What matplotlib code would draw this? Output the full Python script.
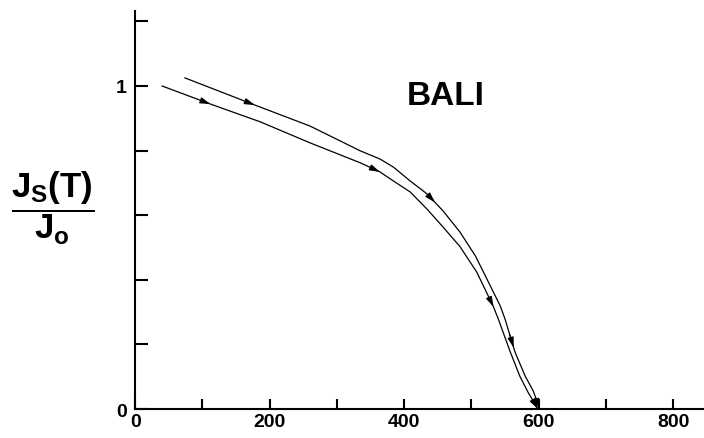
import numpy as np
import matplotlib
matplotlib.use('Agg')
import matplotlib.pyplot as plt

# 曲线数据
T_lower = [40, 112, 186, 260, 335, 364, 384, 409, 434, 458, 483, 508, 533, 540, 558, 572, 584, 599]
J_lower = [1.0, 0.944, 0.889, 0.824, 0.762, 0.734, 0.706, 0.672, 0.619, 0.563, 0.503, 0.424,
           0.316, 0.279, 0.176, 0.102, 0.053, 0.0]

T_upper = [74, 178, 260, 335, 364, 384, 409, 434, 458, 483, 506, 518, 543, 550, 565, 580, 592, 602]
J_upper = [1.025, 0.941, 0.876, 0.799, 0.774, 0.749, 0.706, 0.666, 0.613, 0.548, 0.474, 0.424,
           0.319, 0.279, 0.176, 0.102, 0.056, 0.0]

# 箭头位置
arrow_lower = [112, 364, 533, 599]
arrow_upper = [178, 446, 563, 602]

xticks = list(range(0, 801, 100))
xtick_labels = ['0', '', '200', '', '400', '', '600', '', '800']
yticks = [0, 0.2, 0.4, 0.6, 0.8, 1.0, 1.2]
ytick_labels = ['0', '', '', '', '', '1', '']

plt.rcParams['font.family'] = ['Liberation Sans', 'DejaVu Sans']
plt.rcParams['font.weight'] = 'bold'
plt.rcParams['mathtext.fontset'] = 'custom'
plt.rcParams['mathtext.bf'] = 'Liberation Sans:bold'
plt.rcParams['mathtext.rm'] = 'Liberation Sans:bold'
plt.rcParams['mathtext.it'] = 'Liberation Sans:bold'
plt.rcParams['mathtext.default'] = 'bf'

fig = plt.figure(figsize=(7.04, 4.39), dpi=100)
ax = fig.add_axes([0.192, 0.066, 0.808, 0.9066])

ax.plot(T_lower, J_lower, color='black', linewidth=0.9)
ax.plot(T_upper, J_upper, color='black', linewidth=0.9)


def draw_arrows(Ts, Js, pos, open_first=False):
    for i, t in enumerate(pos):
        j = np.interp(t, Ts, Js)
        t0 = t - 6
        j0 = np.interp(t0, Ts, Js)
        fc = 'white' if (open_first and i == 0) else 'black'
        ax.annotate('', xy=(t, j), xytext=(t0, j0),
                    arrowprops=dict(arrowstyle='-|>,head_length=0.6,head_width=0.18',
                                    color='black', facecolor=fc, lw=0.9,
                                    shrinkA=0, shrinkB=0))


draw_arrows(T_lower, J_lower, arrow_lower, open_first=True)
draw_arrows(T_upper, J_upper, arrow_upper)

ax.text(462, 0.969, 'BALI', fontsize=24, fontweight='bold', ha='center', va='center')

fig.text(0.075, 0.525, r'$\dfrac{J_S(T)}{J_o}$', fontsize=25, ha='center', va='center')

ax.set_xlim(0, 846)
ax.set_ylim(0, 1.232)
ax.set_xticks(xticks)
ax.set_xticklabels(xtick_labels)
ax.set_yticks(yticks)
ax.set_yticklabels(ytick_labels)

ax.spines['top'].set_visible(False)
ax.spines['right'].set_visible(False)
ax.spines['left'].set_linewidth(1.5)
ax.spines['bottom'].set_linewidth(1.5)
ax.tick_params(axis='x', direction='in', length=7, width=1.5, labelsize=14, pad=3)
ax.tick_params(axis='y', direction='in', length=9, width=1.5, labelsize=14, pad=6)
for lab in ax.get_xticklabels() + ax.get_yticklabels():
    lab.set_fontweight('bold')

fig.savefig('out.png', dpi=100)
